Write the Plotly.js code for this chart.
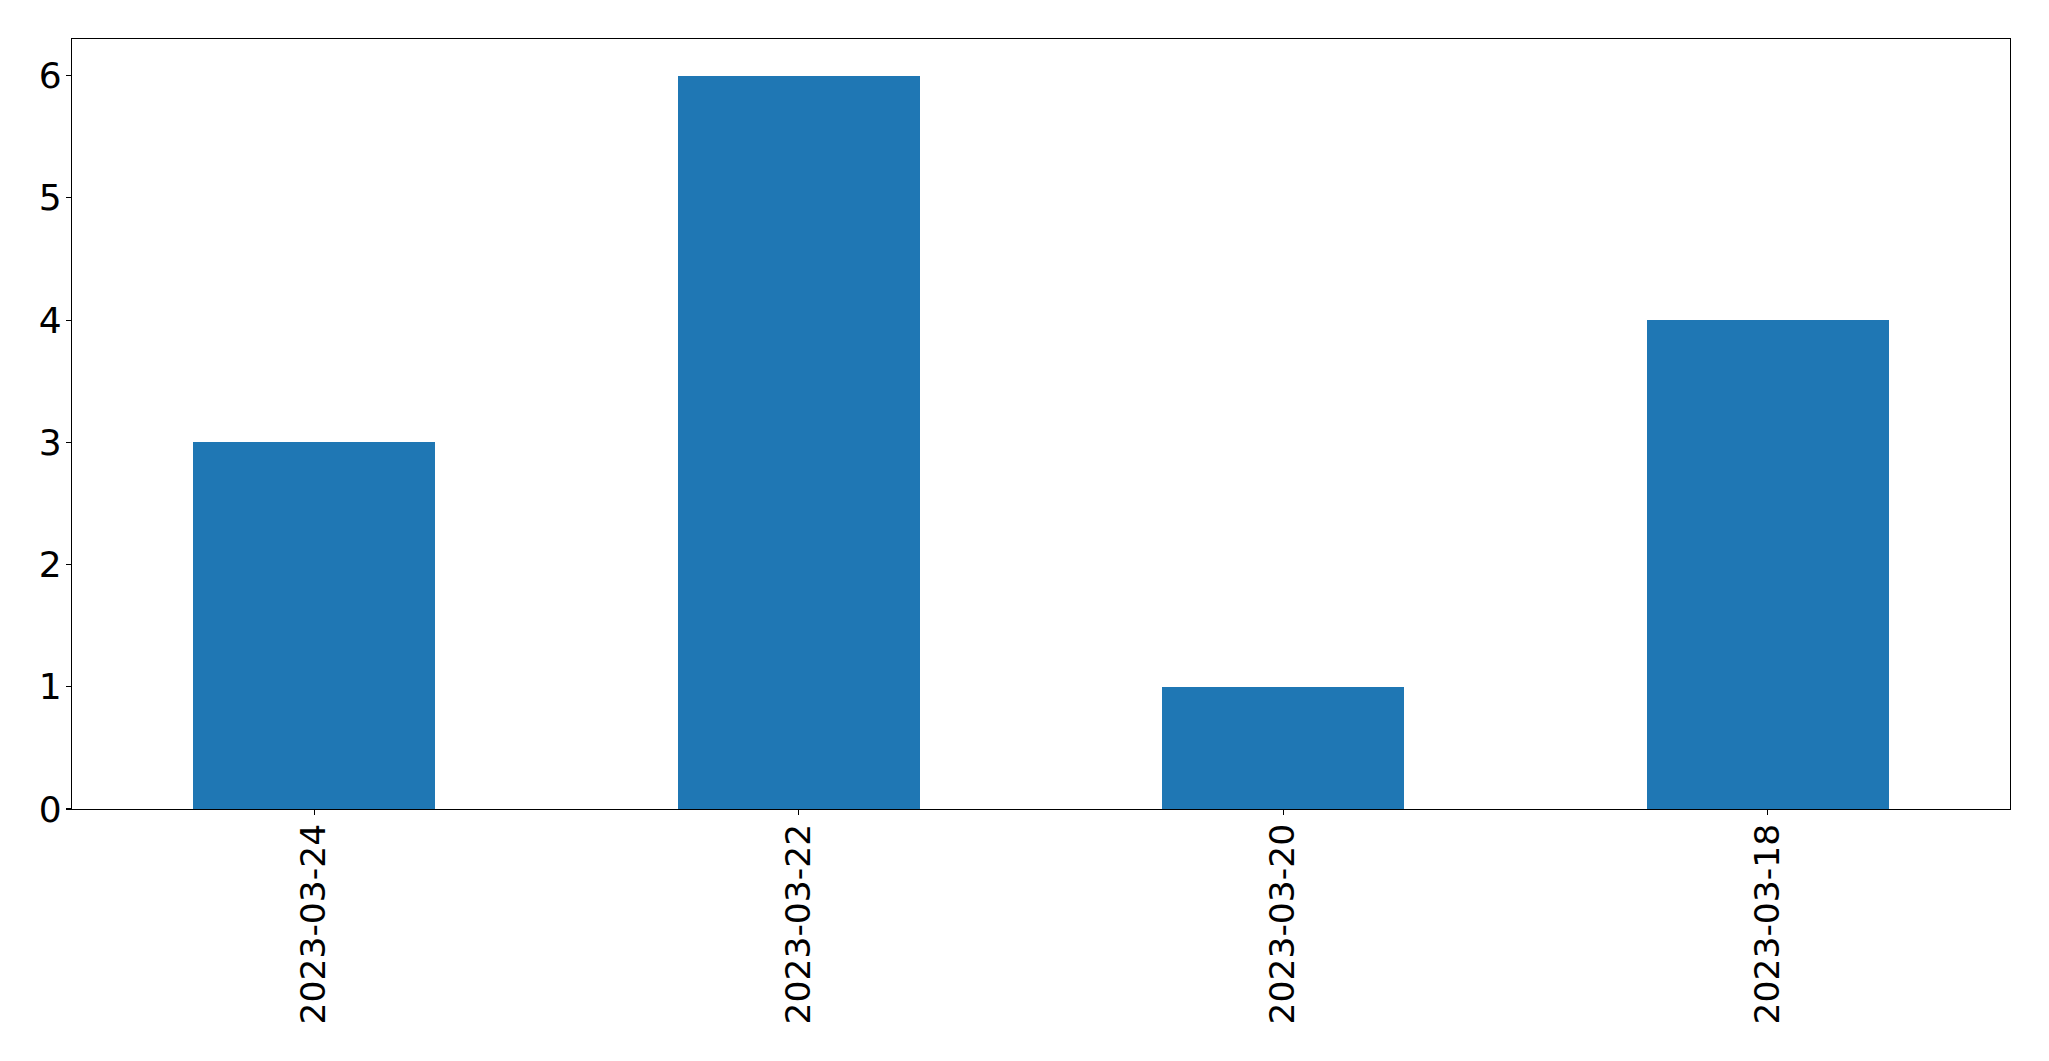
<!DOCTYPE html>
<html>
<head>
<meta charset="utf-8">
<script src="https://cdn.plot.ly/plotly-3.0.1.min.js"></script>
<style>html,body{margin:0;padding:0;background:#fff;}#chart{width:2049px;height:1061px;}</style>
</head>
<body>
<div id="chart"></div>
<script>
const categories = ["2023-03-24", "2023-03-22", "2023-03-20", "2023-03-18"];
const counts = [3, 6, 1, 4];
const yTicks = [0, 1, 2, 3, 4, 5, 6];

const trace = {
  type: 'bar',
  x: categories,
  y: counts,
  width: 0.5,
  marker: {color: '#1f77b4', line: {width: 0}},
  hoverinfo: 'x+y'
};

const layout = {
  width: 2049,
  height: 1061,
  margin: {l: 72, r: 39, t: 39, b: 252, pad: 0},
  paper_bgcolor: '#ffffff',
  plot_bgcolor: '#ffffff',
  showlegend: false,
  font: {family: 'DejaVu Sans, sans-serif', size: 36, color: '#000000'},
  bargap: 0,
  xaxis: {
    type: 'category',
    range: [-0.5, 3.5],
    tickangle: -90,
    ticks: 'outside',
    ticklen: 5,
    tickwidth: 1.1,
    tickcolor: '#000',
    ticklabelstandoff: -5,
    showline: true,
    mirror: true,
    linecolor: '#000',
    linewidth: 1.1,
    showgrid: false,
    zeroline: false,
    tickfont: {family: 'DejaVu Sans, sans-serif', size: 34.5, color: '#000'}
  },
  yaxis: {
    range: [0, 6.3],
    tickvals: yTicks,
    ticktext: yTicks.map(String),
    ticks: 'outside',
    ticklen: 5,
    tickwidth: 1.1,
    tickcolor: '#000',
    ticklabelstandoff: -3,
    showline: true,
    mirror: true,
    linecolor: '#000',
    linewidth: 1.1,
    showgrid: false,
    zeroline: false,
    tickfont: {family: 'DejaVu Sans, sans-serif', size: 36, color: '#000'}
  }
};

Plotly.newPlot('chart', [trace], layout, {displayModeBar: false, staticPlot: true});
</script>
</body>
</html>
